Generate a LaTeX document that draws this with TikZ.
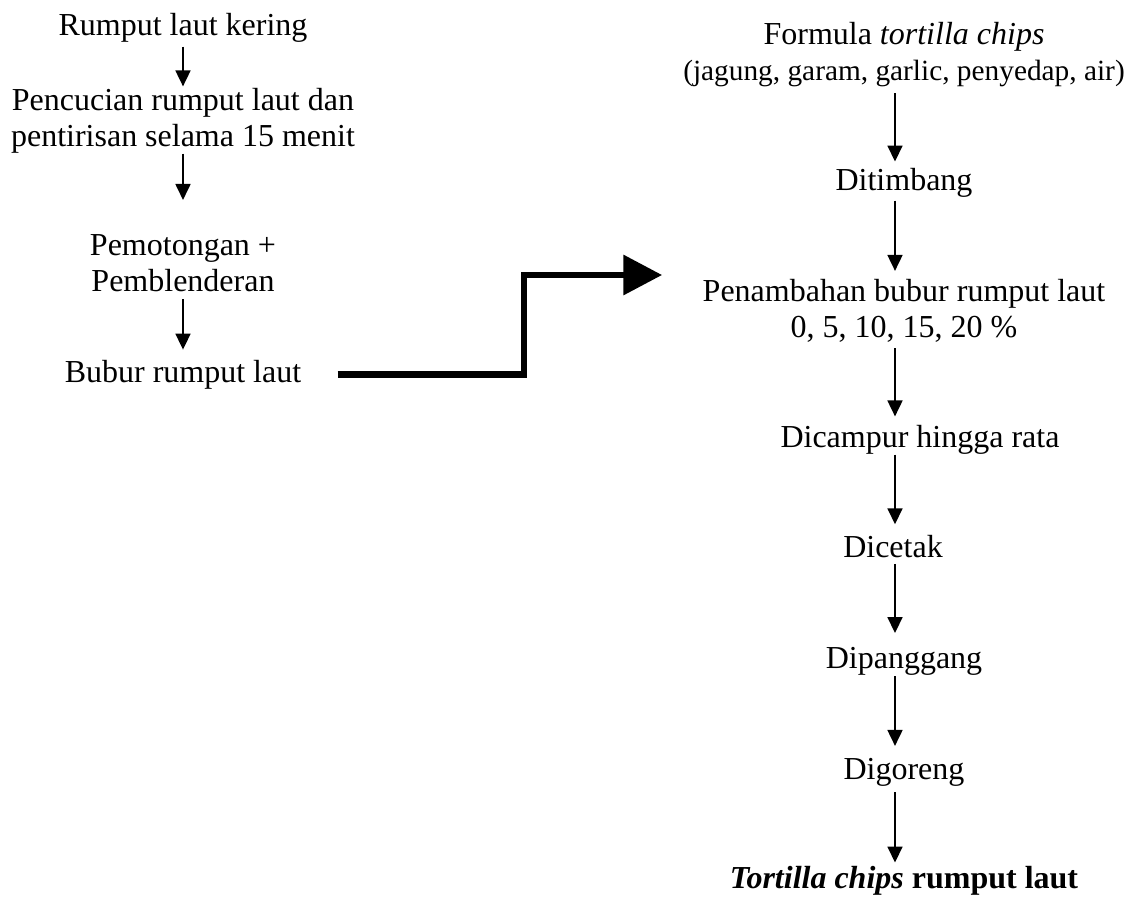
\documentclass[tikz,border=0pt]{standalone}
\usepackage{fontspec}
\setmainfont{Liberation Serif}
\usepackage{tikz}
\usetikzlibrary{arrows.meta,calc}

\begin{document}
\begin{tikzpicture}[
  x=0.375pt, y=-0.375pt,
  font=\fontsize{12}{13.5}\selectfont,
  txt/.style={inner sep=0pt,align=center},
  arr/.style={-{Triangle[length=6pt,width=5.6pt]},line width=0.75pt,
              shorten <=1.5pt,shorten >=3pt},
  big/.style={-{Triangle[length=14.6pt,width=14.6pt]},line width=2.6pt,
              line join=miter,shorten <=13.5pt,shorten >=15pt},
]
\useasboundingbox (0,0) rectangle (1136,897);

% left column: preparing the seaweed pulp
\coordinate (laxis) at (183,0);
\node[txt] (kering) at (183,27.5) {Rumput laut kering};
\node[txt] (cuci)   at (183,120.5) {Pencucian rumput laut dan\\pentirisan selama 15 menit};
\node[txt] (potong) at (183,263) {Pemotongan +\\Pemblenderan};
\node[txt] (bubur)  at (183,374.5) {Bubur rumput laut};

% right column: tortilla chips process
\coordinate (raxis) at (895,0);
\node[txt] (formula) at (904,54.5) {Formula \textit{tortilla chips}\\\fontsize{11}{13.5}\selectfont(jagung, garam, garlic, penyedap, air)};
\node[txt] (timbang) at (904,182.5) {Ditimbang};
\node[txt] (tambah)  at (904,311) {Penambahan bubur rumput laut\\0, 5, 10, 15, 20 \%};
\node[txt] (campur)  at (920,439.5) {Dicampur hingga rata};
\node[txt] (cetak)   at (893,547) {Dicetak};
\node[txt] (panggang) at (904,661.5) {Dipanggang};
\node[txt] (goreng)  at (904,772.5) {Digoreng};
\node[txt] (hasil)   at (904,880.5) {\textbf{\textit{Tortilla chips} rumput laut}};

\draw[arr,shorten >=0.4pt] (kering.south -| laxis) -- (cuci.north -| laxis);
\draw[arr,shorten <=0pt,shorten >=12.7pt] (cuci.south -| laxis) -- (potong.north -| laxis);
\draw[arr,shorten <=2.6pt,shorten >=3.7pt] (potong.south -| laxis) -- (bubur.north -| laxis);

\draw[arr,shorten <=2.2pt,shorten >=2.2pt] (formula.south -| raxis) -- (timbang.north -| raxis);
\draw[arr,shorten <=1.1pt] (timbang.south -| raxis) -- (tambah.north -| raxis);
\draw[arr,shorten <=1.9pt] (tambah.south -| raxis) -- (campur.north -| raxis);
\draw[arr,shorten <=0pt,shorten >=4.1pt] (campur.south -| raxis) -- (cetak.north -| raxis);
\draw[arr,shorten <=1.9pt,shorten >=5.2pt] (cetak.south -| raxis) -- (panggang.north -| raxis);
\draw[arr,shorten <=0pt,shorten >=4.5pt] (panggang.south -| raxis) -- (goreng.north -| raxis);
\draw[arr,shorten <=1.9pt,shorten >=1.1pt] (goreng.south -| raxis) -- (hasil.north -| raxis);

% thick stepped arrow from the pulp into the formula
\coordinate (bend) at (524,275);
\draw[big] (bubur.east) -| (bend) -- (bend -| tambah.west);
\end{tikzpicture}
\end{document}
